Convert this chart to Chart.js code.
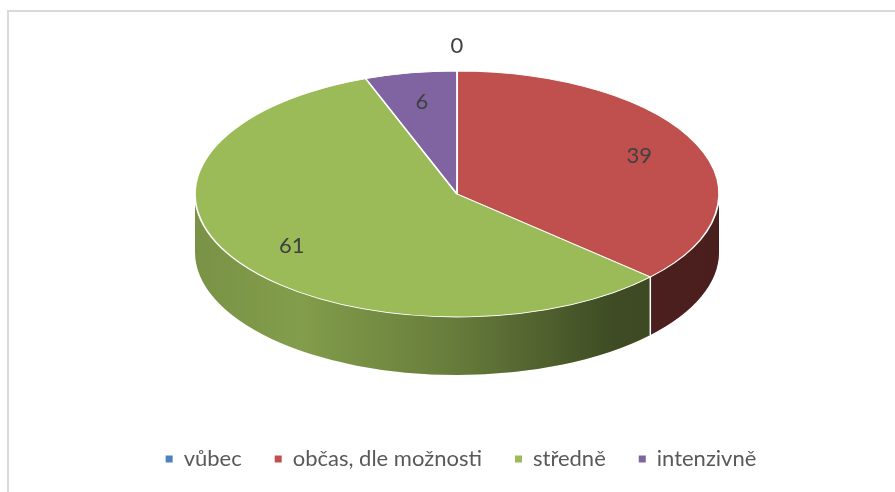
<!DOCTYPE html>
<html>
  <head>
    <meta charset="utf-8">
    <title>3D pie</title>
    <script src="https://cdn.jsdelivr.net/npm/chart.js"></script>
    <style>
      html, body { margin: 0; padding: 0; background: #fff; overflow: hidden; }
      #wrap { position: relative; width: 895px; height: 492px; }
      #frame {
        position: absolute; left: 7px; top: 10px; right: -10px; bottom: -10px;
        border-left: 2px solid #dadada; border-top: 2px solid #dadada;
      }
    </style>
  </head>
  <body>
    <div id="wrap">
      <div id="frame"></div>
      <canvas id="pie-chart"></canvas>
    </div>

    <script>
      const categories = ["vůbec", "občas, dle možnosti", "středně", "intenzivně"];
      const values = [0, 39, 61, 6];
      const colors = ["#4F81BD", "#C0504D", "#9BBB59", "#8064A2"];

      // where the tilted pie sits on the page
      const PIE_CX = 457, PIE_CY = 194, PIE_RX = 262, PIE_RY = 123, PIE_DEPTH = 58;
      const FONT = "Lato";

      // draws the pie walls, squashes the chart.js circle into an ellipse, then writes the values
      const tiltPlugin = {
        id: "tilt",
        beforeDatasetsDraw(chart) {
          const ctx = chart.ctx;
          const arcs = chart.getDatasetMeta(0).data;

          const shade = ctx.createLinearGradient(PIE_CX - PIE_RX, 0, PIE_CX + PIE_RX, 0);
          shade.addColorStop(0, "rgba(0,0,0,0.22)");
          shade.addColorStop(0.2, "rgba(0,0,0,0.16)");
          shade.addColorStop(0.5, "rgba(0,0,0,0.34)");
          shade.addColorStop(0.8, "rgba(0,0,0,0.6)");
          shade.addColorStop(1, "rgba(0,0,0,0.62)");

          ctx.save();
          arcs.forEach((arc, i) => {
            const a0 = Math.max(arc.startAngle, 0);
            const a1 = Math.min(arc.endAngle, Math.PI);
            if (a1 <= a0) return;
            ctx.beginPath();
            ctx.ellipse(PIE_CX, PIE_CY, PIE_RX, PIE_RY, 0, a0, a1);
            ctx.ellipse(PIE_CX, PIE_CY + PIE_DEPTH, PIE_RX, PIE_RY, 0, a1, a0, true);
            ctx.closePath();
            ctx.fillStyle = colors[i];
            ctx.fill();
            ctx.fillStyle = shade;
            ctx.fill();
          });
          // white seams between walls
          ctx.strokeStyle = "#fff";
          ctx.lineWidth = 1.5;
          arcs.forEach((arc) => {
            const a = arc.endAngle;
            if (a <= 0 || a >= Math.PI) return;
            const x = PIE_CX + PIE_RX * Math.cos(a);
            const y = PIE_CY + PIE_RY * Math.sin(a);
            ctx.beginPath();
            ctx.moveTo(x, y);
            ctx.lineTo(x, y + PIE_DEPTH);
            ctx.stroke();
          });
          ctx.restore();

          const a = arcs[0];
          ctx.save();
          ctx.translate(PIE_CX, PIE_CY);
          ctx.scale(PIE_RX / a.outerRadius, PIE_RY / a.outerRadius);
          ctx.translate(-a.x, -a.y);
        },
        afterDatasetsDraw(chart) {
          const ctx = chart.ctx;
          ctx.restore();
          const arcs = chart.getDatasetMeta(0).data;
          ctx.save();
          ctx.font = "22px " + FONT;
          ctx.fillStyle = "#404040";
          ctx.textAlign = "center";
          ctx.textBaseline = "middle";
          arcs.forEach((arc, i) => {
            const mid = (arc.startAngle + arc.endAngle) / 2;
            const f = values[i] === 0 ? 1.2 : 0.76;
            const x = PIE_CX + f * PIE_RX * Math.cos(mid);
            const y = PIE_CY + f * PIE_RY * Math.sin(mid);
            ctx.fillText(String(values[i]), x, y);
          });
          ctx.restore();
        },
      };

      const ctx = document.getElementById("pie-chart").getContext("2d");
      new Chart(ctx, {
        type: "pie",
        data: {
          labels: categories,
          datasets: [
            {
              data: values,
              backgroundColor: colors,
              borderColor: "#ffffff",
              borderWidth: 1.4,
              hoverOffset: 0,
              clip: false,
            },
          ],
        },
        plugins: [tiltPlugin],
        options: {
          responsive: true,
          maintainAspectRatio: false,
          animation: false,
          events: [],
          layout: { padding: { bottom: 12, left: 27 } },
          plugins: {
            tooltip: { enabled: false },
            legend: {
              position: "bottom",
              labels: {
                usePointStyle: true,
                pointStyle: "rect",
                boxWidth: 7,
                boxHeight: 7,
                padding: 33,
                color: "#595959",
                font: { family: FONT, size: 22 },
                generateLabels(chart) {
                  const items = Chart.overrides.pie.plugins.legend.labels.generateLabels(chart);
                  items.forEach((it) => {
                    it.lineWidth = 0;
                    it.strokeStyle = "rgba(0,0,0,0)";
                  });
                  return items;
                },
              },
            },
          },
        },
      });
    </script>
  </body>
</html>
